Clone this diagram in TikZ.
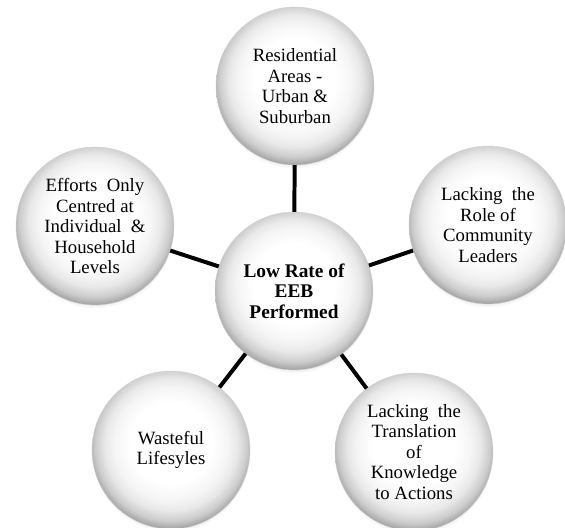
\documentclass[tikz,border=0pt]{standalone}
\usepackage{fontspec}
\setmainfont{Liberation Serif}
\usetikzlibrary{shadows}

% circle edge sits at 25bp of the shading
\pgfdeclareradialshading{pearl}{\pgfpoint{0bp}{3bp}}{%
  color(0bp)=(white); color(13bp)=(white); color(18bp)=(black!4);
  color(21bp)=(black!9); color(24bp)=(black!20); color(26bp)=(black!34);
  color(28bp)=(black!55); color(50bp)=(black!58)}

\tikzset{
  bubble/.style={circle, minimum size=4.74cm, inner sep=0pt, align=center,
    shading=pearl, draw=black!18, line width=0.3pt,
    circular drop shadow={opacity=0.4, shadow xshift=0pt,
    shadow yshift=-0.1cm, shadow scale=1.0},
    font=\fontsize{16}{17.5}\selectfont},
  hub/.style={bubble, font=\fontsize{16.5}{17.5}\selectfont\bfseries},
  spoke/.style={line width=3.4pt, black}
}

\begin{document}
\begin{tikzpicture}
    		\useasboundingbox (-8.82,-7.08) rectangle (8.13,8.73);
    		\node (eeb) at (0,0) [hub] {Low Rate of\\EEB\\Performed};
    		\node (areas) at (0.03,6.15) [bubble] {Residential\\Areas -\\Urban \&\\Suburban};
    		\node (leaders) at (5.82,1.98) [bubble] {Lacking\enspace the\\Role of\\Community\\Leaders};
    		\node (translation) at (3.6,-4.83) [bubble] {Lacking\enspace the\\Translation\\of\\Knowledge\\to Actions};
    		\node (waste) at (-3.69,-4.77) [bubble] {Wasteful\\Lifesyles};
    		\node (efforts) at (-5.97,1.95) [bubble] {Efforts\enspace Only\\Centred at\\Individual\enspace \&\\Household\\Levels};
    		\draw[spoke] (eeb)--(areas);
    		\draw[spoke] (eeb)--(leaders);
    		\draw[spoke] (eeb)--(translation);
    		\draw[spoke] (eeb)--(waste);
    		\draw[spoke] (eeb)--(efforts);
\end{tikzpicture}
\end{document}
